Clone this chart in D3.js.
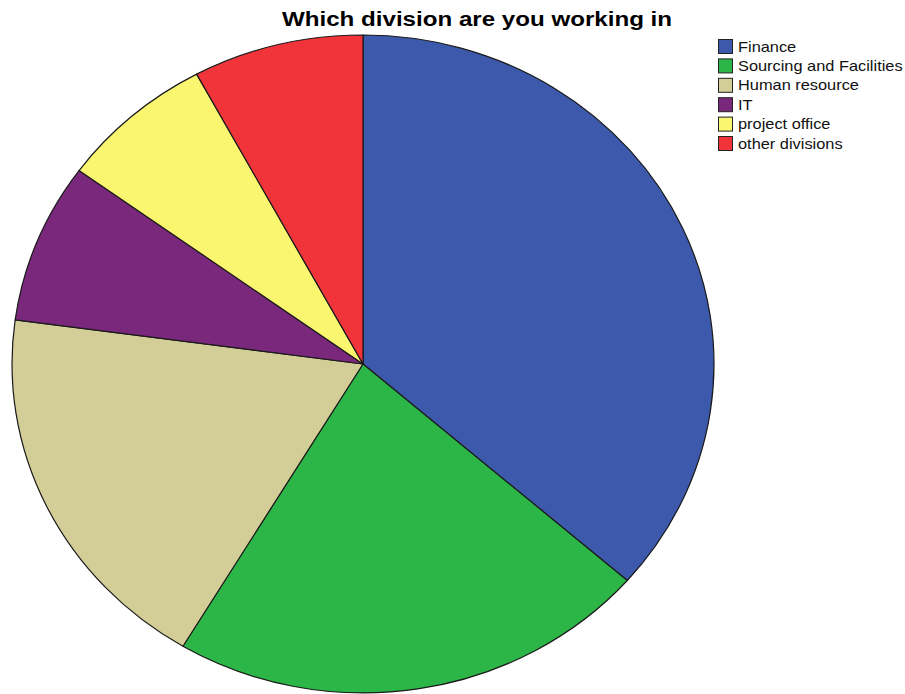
<!DOCTYPE html>
<html lang="en">
<head>
    <meta charset="UTF-8">
    <title>Which division are you working in</title>
    <script src="https://d3js.org/d3.v7.min.js" charset="utf-8"></script>
    <style>
        body { margin: 0; background: #fff; }
        svg { display: block; font-family: "Liberation Sans", Arial, sans-serif; }
    </style>
</head>
<body>
    <div id="pie_chart"></div>
    <script>
        // division names and respondent counts
        var divisions = ['Finance', 'Sourcing and Facilities', 'Human resource', 'IT', 'project office', 'other divisions'];
        var counts = [51, 31, 26, 11, 10, 11];
        var colours = ['#3d59ab', '#2db648', '#d3ce97', '#7a287b', '#fbf66f', '#f1343a'];

        var svgWidth = 905;
        var svgHeight = 694;

        var svg = d3.select('#pie_chart')
                    .append('svg')
                    .attr('width', svgWidth)
                    .attr('height', svgHeight);

        var colorScale = d3.scaleOrdinal()
                            .domain(divisions)
                            .range(colours);

        var data = divisions.map((d, i) => ({ name: d, value: counts[i] }));

        var pie = d3.pie()
                    .sort(null)
                    .value(d => d.value);

        // unit arc, stretched into the ellipse by the group transform
        var arc = d3.arc()
                    .innerRadius(0)
                    .outerRadius(1);

        var cx = 363, cy = 364, rx = 351, ry = 329;

        var g = svg.append('g')
                    .attr('transform', 'translate(' + cx + ',' + cy + ') scale(' + rx + ',' + ry + ')');

        g.selectAll('path')
            .data(pie(data))
            .enter()
            .append('path')
            .attr('d', arc)
            .attr('fill', d => colorScale(d.data.name))
            .attr('stroke', '#1a1a1a')
            .attr('stroke-width', 1.2)
            .attr('stroke-linejoin', 'round')
            .attr('vector-effect', 'non-scaling-stroke');

        // title (the original text is drawn a bit wide, hence the x stretch)
        svg.append('text')
            .attr('transform', 'translate(477, 26) scale(1.15, 1)')
            .attr('text-anchor', 'middle')
            .style('font-size', '21px')
            .style('font-weight', 'bold')
            .text('Which division are you working in');

        // legend
        var legend = svg.append('g')
                        .attr('transform', 'translate(718, 39)');

        legend.selectAll('rect')
                .data(divisions)
                .enter()
                .append('rect')
                .attr('x', 0.5)
                .attr('y', (d, i) => i * 19.4 + 0.5)
                .attr('width', 14)
                .attr('height', 14)
                .attr('fill', d => colorScale(d))
                .attr('stroke', '#222')
                .attr('stroke-width', 1);

        legend.selectAll('text')
                .data(divisions)
                .enter()
                .append('text')
                .attr('transform', (d, i) => 'translate(20,' + (i * 19.4 + 12.5) + ') scale(1.17, 1)')
                .style('font-size', '14px')
                .attr('fill', '#111')
                .text(d => d);
    </script>
</body>
</html>
